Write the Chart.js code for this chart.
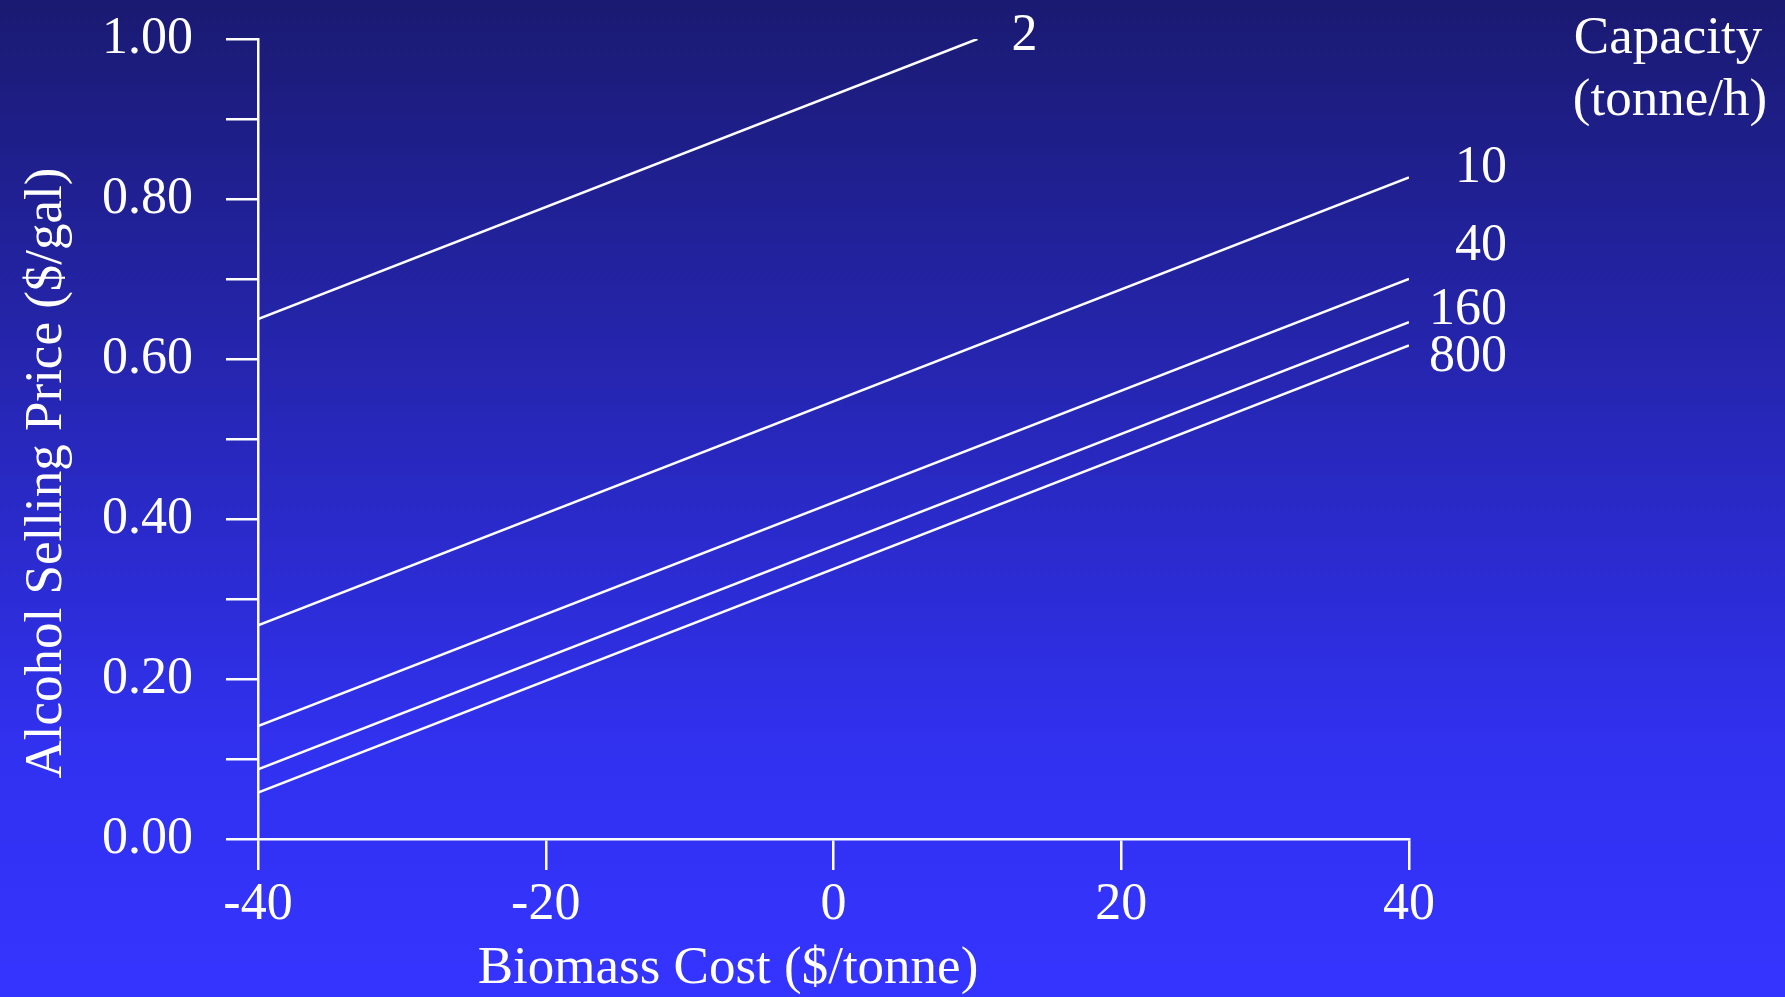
<!DOCTYPE html>
<html>
<head>
<meta charset="utf-8">
<title>Alcohol Selling Price vs Biomass Cost</title>
<script src="https://cdn.jsdelivr.net/npm/chart.js@4.4.1/dist/chart.umd.min.js"></script>
<style>
  html, body { margin: 0; padding: 0; background: #2626c0; }
  #wrap { width: 1785px; height: 997px; position: relative; }
</style>
</head>
<body>
<div id="wrap"><canvas id="chart"></canvas></div>
<script>
// plant capacities (tonne/h) and the price line for each one
const capacities = ["2", "10", "40", "160", "800"];
const biomassCost = [
  [-40, 10],
  [-40, 40],
  [-40, 40],
  [-40, 40],
  [-40, 40]
];
const sellingPrice = [
  [0.65, 1.00],
  [0.267, 0.827],
  [0.141, 0.70],
  [0.087, 0.646],
  [0.058, 0.617]
];
const xTicks = [-40, -20, 0, 20, 40];
const yTicks = [0, 0.2, 0.4, 0.6, 0.8, 1.0];

const serif = "'Liberation Serif', 'Times New Roman', serif";

// where each capacity label sits relative to the end of its line
const labelNudge = [
  { dx: 34, dy: 11, align: "left" },
  { right: 98, dy: 5 },
  { right: 98, dy: -19 },
  { right: 98, dy: 2 },
  { right: 98, dy: 26 }
];

const backdrop = {
  id: "backdrop",
  beforeDraw(chart) {
    const { ctx, width, height } = chart;
    const g = ctx.createLinearGradient(0, 0, 0, height);
    g.addColorStop(0, "#1a1a72");
    g.addColorStop(0.75, "#3131f0");
    g.addColorStop(1, "#3434ff");
    ctx.save();
    ctx.fillStyle = g;
    ctx.fillRect(0, 0, width, height);
    ctx.restore();
  }
};

const annotations = {
  id: "annotations",
  afterDraw(chart) {
    const { ctx, scales: { x, y } } = chart;
    ctx.save();
    ctx.fillStyle = "#ffffff";
    ctx.textBaseline = "alphabetic";

    ctx.font = "52px " + serif;
    capacities.forEach((cap, i) => {
      const n = labelNudge[i];
      const px = x.getPixelForValue(biomassCost[i][1]);
      const py = y.getPixelForValue(sellingPrice[i][1]);
      if (n.align === "left") {
        ctx.textAlign = "left";
        ctx.fillText(cap, px + n.dx, py + n.dy);
      } else {
        ctx.textAlign = "right";
        ctx.fillText(cap, x.right + n.right, py + n.dy);
      }
    });

    ctx.font = "53px " + serif;
    ctx.textAlign = "center";
    ctx.fillText("Capacity", 1668, 53);
    ctx.fillText("(tonne/h)", 1670, 115);

    ctx.fillText("Biomass Cost ($/tonne)", 728, 983);

    ctx.translate(61, 473);
    ctx.rotate(-Math.PI / 2);
    ctx.fillText("Alcohol Selling Price ($/gal)", 0, 0);
    ctx.restore();
  }
};

const axisLine = { color: "#ffffff", width: 2.5 };
const tickMarks = { drawOnChartArea: false, drawTicks: true, color: "#ffffff", lineWidth: 2.5 };

new Chart(document.getElementById("chart"), {
  type: "scatter",
  data: {
    datasets: capacities.map((cap, i) => ({
      label: cap,
      data: biomassCost[i].map((c, j) => ({ x: c, y: sellingPrice[i][j] })),
      showLine: true,
      borderColor: "#ffffff",
      borderWidth: 2.5,
      pointRadius: 0,
      fill: false
    }))
  },
  options: {
    responsive: true,
    maintainAspectRatio: false,
    devicePixelRatio: 1,
    animation: false,
    layout: { padding: { left: 0, right: 376, top: 39, bottom: 0 } },
    plugins: { legend: { display: false }, tooltip: { enabled: false } },
    scales: {
      x: {
        type: "linear",
        min: xTicks[0],
        max: xTicks[xTicks.length - 1],
        border: axisLine,
        grid: { ...tickMarks, tickLength: 31 },
        afterBuildTicks(scale) { scale.ticks = xTicks.map(v => ({ value: v })); },
        afterFit(scale) { scale.height = 158; },
        ticks: {
          color: "#ffffff",
          font: { family: serif, size: 52 },
          padding: 4,
          maxRotation: 0,
          autoSkip: false,
          callback: v => String(v)
        }
      },
      y: {
        min: 0,
        max: 1,
        border: axisLine,
        grid: { ...tickMarks, tickLength: 32 },
        afterFit(scale) {
          scale.width = 258;
          scale.paddingTop = 0;
          scale.paddingBottom = 0;
        },
        ticks: {
          stepSize: 0.1,
          color: "#ffffff",
          font: { family: serif, size: 52 },
          padding: 33,
          autoSkip: false,
          callback: v => yTicks.some(t => Math.abs(t - v) < 1e-6) ? v.toFixed(2) : ""
        }
      }
    }
  },
  plugins: [backdrop, annotations]
});
</script>
</body>
</html>
